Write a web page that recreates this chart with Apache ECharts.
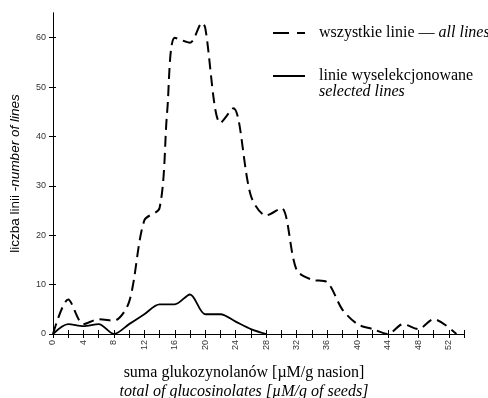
<!DOCTYPE html>
<html>
<head>
<meta charset="utf-8">
<script src="https://cdn.jsdelivr.net/npm/echarts@6/dist/echarts.min.js"></script>
<style>
  html, body { margin: 0; padding: 0; background: #fff; }
  #chart { width: 488px; height: 398px; }
</style>
</head>
<body>
<div id="chart"></div>
<script>
// wszystkie linie (dashed)
var allX = [0, 2, 4, 6, 8, 10, 12, 14, 15, 16, 18, 19.6, 20, 22, 23.7, 26, 28, 30, 32, 34, 36, 38, 40, 42, 44, 46, 48, 50, 53];
var allY = [0, 7, 2, 3, 2.7, 6.5, 23, 25.5, 45, 60, 59, 63, 62, 42.7, 45.7, 28, 24, 25.5, 13, 11, 10.5, 5, 2, 1, 0, 2, 1, 3, 0];
// linie wyselekcjonowane (solid)
var selX = [0, 2, 4, 6, 8, 10, 12, 14, 16, 18, 20, 22, 24, 26, 28];
var selY = [0, 2, 1.6, 2, 0, 2, 4, 6, 6, 8, 4, 4, 2.5, 1, 0];

var xTicks = [];
for (var t = 0; t <= 54; t += 2) xTicks.push(t);
var xLabels = [];
for (var t = 0; t <= 52; t += 4) xLabels.push(t);
var yTicks = [0, 10, 20, 30, 40, 50, 60];

function pairs(xs, ys) {
  return xs.map(function (x, i) { return [x, ys[i]]; });
}

var nameAll = 'wszystkie linie — all lines';
var nameSel = 'linie wyselekcjonowane';
var serif = 'Liberation Serif';

var chart = echarts.init(document.getElementById('chart'));
var axisCommon = {
  type: 'value',
  axisLine: { show: true, lineStyle: { color: '#000', width: 1 } },
  splitLine: { show: false }
};
chart.setOption({
  animation: false,
  grid: { left: 53, right: 24, top: 13, bottom: 64 },
  legend: [
    {
      data: [nameAll],
      left: 267, top: 20,
      itemWidth: 32, itemHeight: 14,
      itemStyle: { opacity: 0 },
      lineStyle: { color: '#000', width: 2, type: [16, 8] },
      formatter: function () { return '{a|wszystkie linie — }{b|all lines}'; },
      textStyle: {
        rich: {
          a: { fontFamily: serif, fontSize: 16, color: '#000', padding: [0, 0, 0, 9] },
          b: { fontFamily: serif, fontSize: 16, color: '#000', fontStyle: 'italic' }
        }
      }
    },
    {
      data: [nameSel],
      left: 267, top: 63,
      itemWidth: 32, itemHeight: 14,
      itemStyle: { opacity: 0 },
      lineStyle: { color: '#000', width: 2, type: 'solid' },
      textStyle: { fontFamily: serif, fontSize: 16, color: '#000', padding: [0, 0, 0, 9] }
    }
  ],
  graphic: [
    { type: 'text', left: 319, top: 84, style: { text: 'selected lines', font: 'italic 16px "Liberation Serif"', fill: '#000' } },
    { type: 'text', left: 'center', top: 365, x: -10, style: { text: 'suma glukozynolanów [µM/g nasion]', font: '16px "Liberation Serif"', fill: '#000' } },
    { type: 'text', left: 'center', top: 384, x: -10, style: { text: 'total of glucosinolates [µM/g of seeds]', font: 'italic 16px "Liberation Serif"', fill: '#000' } }
  ],
  xAxis: [
    Object.assign({}, axisCommon, {
      min: 0, max: 54,
      axisTick: { show: true, length: 4, lineStyle: { color: '#000' }, customValues: xTicks },
      axisLabel: {
        customValues: xLabels, rotate: 90, margin: 6,
        fontFamily: 'Liberation Sans', fontSize: 9, color: '#333'
      }
    }),
    Object.assign({}, axisCommon, {
      min: 0, max: 54, position: 'bottom',
      axisTick: { show: true, inside: true, length: 4, lineStyle: { color: '#000' }, customValues: xTicks },
      axisLabel: { show: false }
    })
  ],
  yAxis: [
    Object.assign({}, axisCommon, {
      min: 0, max: 65,
      name: 'liczba linii -{i|number of lines}',
      nameLocation: 'middle', nameGap: 31,
      nameTextStyle: {
        fontFamily: 'Liberation Sans', fontSize: 13.5, color: '#000',
        rich: { i: { fontFamily: 'Liberation Sans', fontSize: 13.5, color: '#000', fontStyle: 'italic' } }
      },
      axisTick: { show: true, length: 4, lineStyle: { color: '#000' }, customValues: yTicks },
      axisLabel: { customValues: yTicks, margin: 7, fontFamily: 'Liberation Sans', fontSize: 9, color: '#333' }
    }),
    Object.assign({}, axisCommon, {
      min: 0, max: 65, position: 'left',
      axisTick: { show: true, inside: true, length: 3, lineStyle: { color: '#000' }, customValues: yTicks },
      axisLabel: { show: false }
    })
  ],
  series: [
    {
      name: nameAll, type: 'line', smooth: 0.3, symbol: 'none',
      lineStyle: { color: '#000', width: 2, type: [11, 6] },
      itemStyle: { color: '#000' },
      data: pairs(allX, allY)
    },
    {
      name: nameSel, type: 'line', smooth: 0.3, symbol: 'none',
      lineStyle: { color: '#000', width: 1.8, type: 'solid' },
      itemStyle: { color: '#000' },
      data: pairs(selX, selY)
    }
  ]
});
</script>
</body>
</html>
